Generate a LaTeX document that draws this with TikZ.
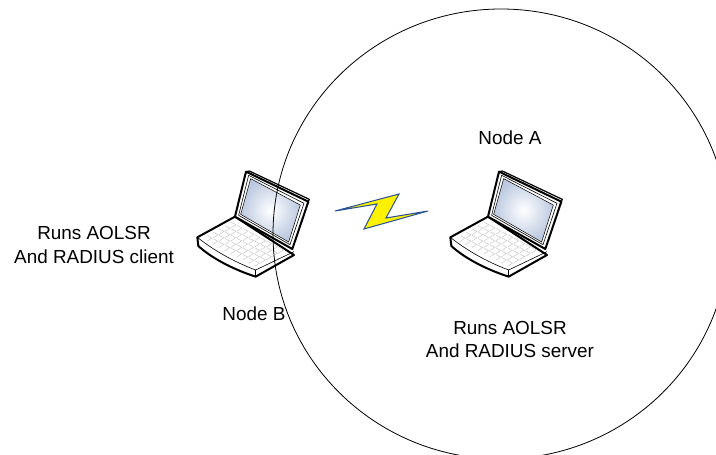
\documentclass[tikz,border=0pt]{standalone}
\usepackage{fontspec}
\setmainfont{Liberation Sans}
\definecolor{scr}{HTML}{BCC9E0}
\definecolor{keyc}{HTML}{C8C8C8}
\tikzset{
  lbl/.style={font=\fontsize{18.9}{23.5}\selectfont,align=center,text=black,inner sep=0pt},
  outl/.style={draw=black,line width=2pt,line join=round,fill=white},
  thin outl/.style={draw=black,line width=0.6pt,line join=round},
}
\newcommand{\laptopshape}{%
    \path[outl] (22,232) -- (135,170) -- (312,285) -- (197,350) .. controls (120,325) and (60,290) .. (25,258) -- cycle;
    \draw[thin outl] (22,232) .. controls (70,270) and (130,305) .. (197,330) -- (312,275);
    \draw[draw=black,line width=1.2pt] (197,330) -- (197,350);
    \foreach \r in {0,...,4}{\foreach \c in {0,...,8}{
      \draw[keyc,line width=0.5pt]
        ({122+\c*17.8-\r*18+2},{186+\c*9.4+\r*10+1}) --
        ({122+(\c+1)*17.8-\r*18-2},{186+(\c+1)*9.4+\r*10-1}) --
        ({122+(\c+1)*17.8-(\r+1)*18+1},{186+(\c+1)*9.4+(\r+1)*10-1});
    }}
    \path[outl] (168,35) -- (355,125) -- (307,267) -- (135,170) -- cycle;
    \draw[thin outl] (176,46) -- (342,130) -- (300,254) -- (146,166) -- cycle;
    \shade[inner color=white,outer color=scr,draw=black,line width=0.5pt]
      (182,56) -- (331,135) -- (296,246) -- (152,163) -- cycle;
    \draw[thin outl,line width=1.2pt] (168,35) -- (178,33) -- (358,118) -- (355,125);
}
\begin{document}
\begin{tikzpicture}[x=1pt,y=-1pt]
\useasboundingbox (0,0) rectangle (716,455);
\fill[white] (0,0) rectangle (716,455);
\begin{scope}[shift={(190,160)},x=0.3333pt,y=-0.3333pt]
\laptopshape
\end{scope}
\begin{scope}[shift={(443,160)},x=0.3333pt,y=-0.3333pt]
\laptopshape
\end{scope}
\begin{scope}
\clip (0,0) rectangle (716,455);
\draw[black,line width=0.8pt] (501,234) ellipse [x radius=228,y radius=225];
\end{scope}
\draw[draw={rgb,255:red,40;green,80;blue,150},line width=1pt,fill=yellow,line join=miter]
  (335,211) -- (399,194) -- (386,218) -- (428,211) -- (364,229) -- (377,204) -- cycle;
\node[lbl] (nodeA) at (510,138) {Node A};
\node[lbl] (nodeB) at (254,313.5) {Node B};
\node[lbl] (client) at (94,245) {Runs AOLSR\\And RADIUS client};
\node[lbl] (server) at (510,339.5) {Runs AOLSR\\And RADIUS server};
\end{tikzpicture}
\end{document}
